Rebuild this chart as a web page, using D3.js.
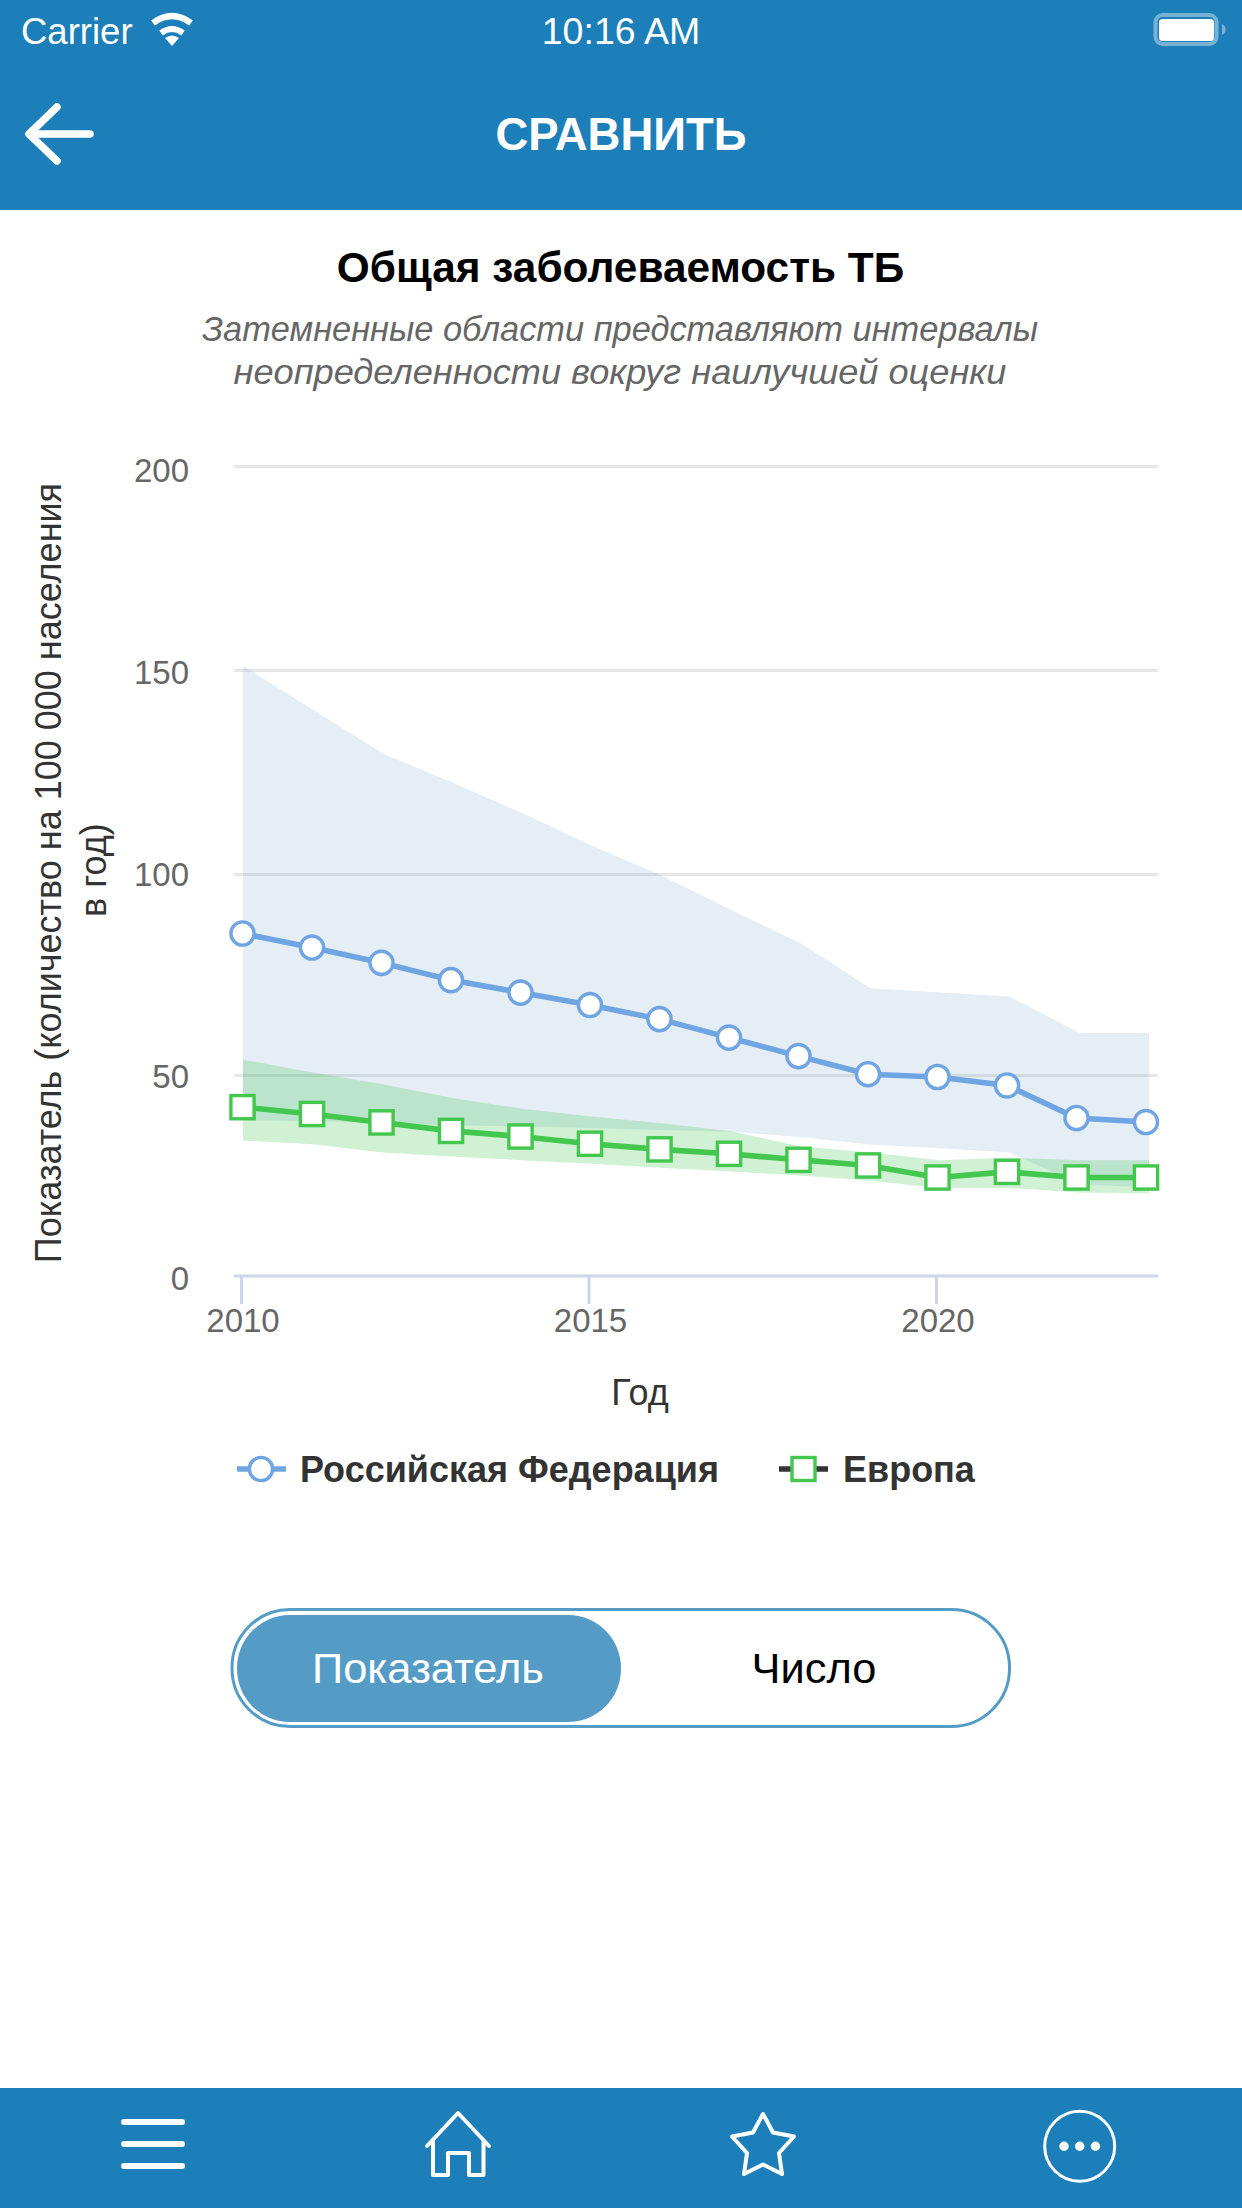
<!DOCTYPE html>
<html lang="ru">
<head>
  <title>Общая заболеваемость ТБ</title>
  <meta charset="utf-8">
  <script src="https://d3js.org/d3.v7.min.js"></script>
  <style>
    html, body { margin: 0; padding: 0; background: #fff; }
    svg { display: block; }
    text { font-family: "Liberation Sans", Arial, sans-serif; }
  </style>
</head>
<body>
<svg width="1242" height="2208"></svg>
<script>
// data
var years = [2010, 2011, 2012, 2013, 2014, 2015, 2016, 2017, 2018, 2019, 2020, 2021, 2022, 2023];
var russia = [85.2, 81.7, 77.9, 73.6, 70.5, 67.4, 63.9, 59.3, 54.7, 50.2, 49.5, 47.4, 39.3, 38.3];
var russiaHigh = [151, 140.3, 129.6, 122.4, 115, 107, 99.6, 91.1, 82.8, 71.6, 70.5, 69.5, 60.5, 60.5];
var russiaLow = [38.8, 38.5, 38.1, 37.5, 37.2, 36.8, 36.3, 35.9, 34.6, 32.7, 31.8, 30.7, 22.9, 22];
var europe = [42, 40.3, 38.2, 36.1, 34.7, 32.9, 31.5, 30.4, 28.9, 27.5, 24.5, 25.9, 24.5, 24.5];
var europeHigh = [53.8, 50.6, 47.7, 44.3, 41.6, 39.7, 38, 36, 32.2, 30.7, 28.8, 29.4, 28.8, 28.8];
var europeLow = [33.7, 32.8, 30.7, 29.7, 28.8, 27.9, 26.9, 26, 25, 23.7, 21.9, 21.9, 20.8, 20.5];
var yTicks = [0, 50, 100, 150, 200];
var xTicks = [2010, 2015, 2020];
var seriesNames = ["Российская Федерация", "Европа"];

var svg = d3.select("svg");
var barColor = "#1d7fb9", blue = "#70a5e3", green = "#43c74f", toggleColor = "#549cc6";

var x = d3.scaleLinear().domain([2010, 2023]).range([242.5, 1146]);
// the shaded areas run slightly wider than the points in the original
var xBand = d3.scaleLinear().domain([2010, 2023]).range([243, 1149]);
// gridlines in the original are not quite evenly spaced, tick labels are
var y = d3.scaleLinear().domain(yTicks).range([1276, 1075, 874, 670, 466]);
var yLabel = d3.scaleLinear().domain([0, 200]).range([1278, 470]);

function label(px, py, str, size, color, anchor, weight, style) {
  return svg.append("text").attr("x", px).attr("y", py).text(str)
    .attr("font-size", size).attr("fill", color)
    .attr("text-anchor", anchor || "middle")
    .attr("font-weight", weight || "normal")
    .attr("font-style", style || "normal");
}

// top bars
svg.append("rect").attr("width", 1242).attr("height", 210).attr("fill", barColor);
label(21, 44, "Carrier", 36.5, "#fff", "start");
label(621, 44, "10:16 AM", 37.5, "#fff");
label(621, 150, "СРАВНИТЬ", 45.5, "#fff", "middle", "bold");

// wifi
var wifi = svg.append("g").attr("fill", "none").attr("stroke", "#fff");
wifi.append("path").attr("stroke-width", 6.5).attr("d", "M153 23 Q172 9 191 23");
wifi.append("path").attr("stroke-width", 6).attr("d", "M161 33 Q172 25 183 33");
svg.append("path").attr("d", "M165 38 Q172 33 179 38 L172 46 Z").attr("fill", "#fff");

// battery
svg.append("rect").attr("x", 1155.5).attr("y", 15).attr("width", 61).attr("height", 29).attr("rx", 7)
  .attr("fill", "none").attr("stroke", "#fff").attr("stroke-opacity", 0.4).attr("stroke-width", 4);
svg.append("rect").attr("x", 1159).attr("y", 19).attr("width", 55).attr("height", 22).attr("rx", 3.5).attr("fill", "#fff");
svg.append("path").attr("d", "M1222 24 A6 6 0 0 1 1222 35 Z").attr("fill", "#fff").attr("fill-opacity", 0.4);

// back arrow
svg.append("path").attr("d", "M57 107 L29 134 L57 161 M29 134 H90")
  .attr("fill", "none").attr("stroke", "#fff").attr("stroke-width", 7.5)
  .attr("stroke-linecap", "round").attr("stroke-linejoin", "round");

// titles
label(620.5, 282, "Общая заболеваемость ТБ", 42.4, "#000", "middle", "bold");
label(620, 340.5, "Затемненные области представляют интервалы", 35, "#666", "middle", "normal", "italic")
  .attr("textLength", 836).attr("lengthAdjust", "spacingAndGlyphs");
label(620, 384, "неопределенности вокруг наилучшей оценки", 35, "#666", "middle", "normal", "italic")
  .attr("textLength", 773).attr("lengthAdjust", "spacingAndGlyphs");

// grid and y labels
var yAxis = svg.append("g").attr("transform", "translate(234,0)")
  .call(d3.axisRight(y).tickValues(yTicks).tickSize(924).tickFormat(d3.format("d")));
yAxis.select(".domain").remove();
yAxis.selectAll("line").attr("stroke", "#e6e6e6").attr("stroke-width", 3)
  .filter(function(d) { return d === 0; }).remove();
yAxis.selectAll("text").attr("x", -45).attr("dy", 11.5)
  .attr("y", function(d) { return yLabel(d) - y(d); })
  .attr("text-anchor", "end").attr("font-size", 33).attr("fill", "#666");

// uncertainty bands
var band = d3.area().x(function(d) { return xBand(d.year); })
  .y0(function(d) { return y(d.low); }).y1(function(d) { return y(d.high); });
function bandRows(low, high) {
  return years.map(function(yr, i) { return { year: yr, low: low[i], high: high[i] }; });
}
svg.append("path").datum(bandRows(russiaLow, russiaHigh)).attr("d", band)
  .attr("fill", "#7ca3cc").attr("fill-opacity", 0.2);
svg.append("path").datum(bandRows(europeLow, europeHigh)).attr("d", band)
  .attr("fill", green).attr("fill-opacity", 0.25);

// x axis
var xAxis = svg.append("g").attr("transform", "translate(0,1276)")
  .call(d3.axisBottom(x).tickValues(xTicks).tickSize(28).tickFormat(d3.format("d")));
xAxis.select(".domain").attr("d", "M234 0 H1158").attr("stroke", "#ccd6eb").attr("stroke-width", 3);
xAxis.selectAll("line").attr("stroke", "#ccd6eb").attr("stroke-width", 3).attr("x1", -1.5).attr("x2", -1.5);
xAxis.selectAll("text").attr("y", 0).attr("dy", 56).attr("font-size", 33).attr("fill", "#666");

// axis titles
label(640, 1405, "Год", 36, "#333");
var yTitle = svg.append("g").attr("transform", "translate(0,873) rotate(-90)");
yTitle.append("text").attr("x", 0).attr("y", 61).attr("text-anchor", "middle")
  .attr("font-size", 36).attr("fill", "#333").text("Показатель (количество на 100 000 населения");
yTitle.append("text").attr("x", -44).attr("y", 105.5).attr("text-anchor", "start")
  .attr("font-size", 36).attr("fill", "#333").text("в год)");

// series
var line = d3.line().x(function(d, i) { return x(years[i]); }).y(function(d) { return y(d); });
svg.append("path").datum(russia).attr("d", line).attr("fill", "none").attr("stroke", blue).attr("stroke-width", 5.6);
svg.append("path").datum(europe).attr("d", line).attr("fill", "none").attr("stroke", green).attr("stroke-width", 5.6);

svg.append("g").selectAll("circle").data(russia).enter().append("circle")
  .attr("cx", function(d, i) { return x(years[i]); })
  .attr("cy", function(d) { return y(d); })
  .attr("r", 11.6).attr("fill", "#fff").attr("stroke", blue).attr("stroke-width", 3.4);
svg.append("g").selectAll("rect").data(europe).enter().append("rect")
  .attr("x", function(d, i) { return x(years[i]) - 11.6; })
  .attr("y", function(d) { return y(d) - 11.6; })
  .attr("width", 23.2).attr("height", 23.2)
  .attr("fill", "#fff").attr("stroke", green).attr("stroke-width", 3.4);

// legend
svg.append("path").attr("d", "M237 1469 H286").attr("stroke", blue).attr("stroke-width", 5.6);
svg.append("circle").attr("cx", 261).attr("cy", 1469).attr("r", 11.6)
  .attr("fill", "#fff").attr("stroke", blue).attr("stroke-width", 3.4);
label(300, 1482, seriesNames[0], 36, "#333", "start", "bold");
svg.append("path").attr("d", "M779 1469 H828").attr("stroke", "#333").attr("stroke-width", 5.6);
svg.append("rect").attr("x", 792).attr("y", 1457.5).attr("width", 23).attr("height", 23)
  .attr("fill", "#fff").attr("stroke", green).attr("stroke-width", 3.4);
label(843, 1482, seriesNames[1], 36, "#333", "start", "bold");

// toggle
svg.append("rect").attr("x", 232).attr("y", 1609.5).attr("width", 777.5).attr("height", 117).attr("rx", 58)
  .attr("fill", "#fff").attr("stroke", toggleColor).attr("stroke-width", 3);
svg.append("rect").attr("x", 237).attr("y", 1615).attr("width", 384).attr("height", 107).attr("rx", 53)
  .attr("fill", toggleColor);
label(428, 1683, "Показатель", 43.4, "#fff");
label(814, 1683, "Число", 43.4, "#000");

// bottom bar and icons
svg.append("rect").attr("y", 2088).attr("width", 1242).attr("height", 120).attr("fill", barColor);
var icons = svg.append("g").attr("fill", "none").attr("stroke", "#fff").attr("stroke-width", 4)
  .attr("stroke-linejoin", "round").attr("stroke-linecap", "round");
icons.append("path").attr("stroke-width", 6).attr("d", "M124 2122 H182 M124 2144 H182 M124 2166 H182");
icons.append("path").attr("d", "M427 2146 L458 2113 L489 2146 M433 2140 V2175 H448 V2153 H469 V2175 H483.5 V2140");
icons.append("path").attr("d", "M763 2114 L773 2132.5 L794 2136.5 L779 2153 L782 2174 L763 2164.5 L744 2174 L747 2153 L732 2136.5 L753 2132.5 Z");
icons.append("circle").attr("cx", 1079.7).attr("cy", 2146.3).attr("r", 35).attr("stroke-width", 3);
[-15.7, 0, 15.7].forEach(function(dx) {
  svg.append("circle").attr("cx", 1079.7 + dx).attr("cy", 2146.3).attr("r", 4.7).attr("fill", "#fff");
});
</script>
</body>
</html>
